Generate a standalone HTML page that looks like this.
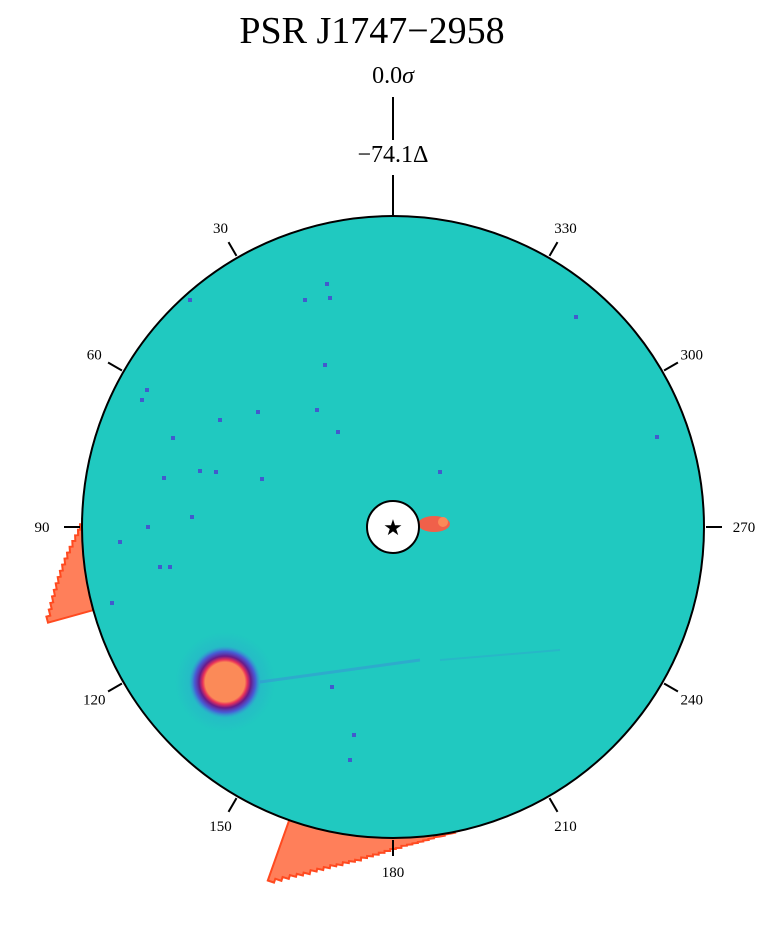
<!DOCTYPE html>
<html><head><meta charset="utf-8"><style>
html,body{margin:0;padding:0;background:#fff;}
svg{display:block;font-family:"Liberation Serif",serif;}
</style></head><body>
<svg id="chart" width="773" height="935" viewBox="0 0 773 935" xmlns="http://www.w3.org/2000/svg">
<defs>
<radialGradient id="blob" cx="50%" cy="50%" r="50%">
<stop offset="0" stop-color="#fb8a58"/><stop offset="0.55" stop-color="#fb8a58"/>
<stop offset="0.62" stop-color="#e8305a"/><stop offset="0.72" stop-color="#6a1a8a"/>
<stop offset="0.85" stop-color="#5046d8" stop-opacity="0.8"/><stop offset="1" stop-color="#3c8fd8" stop-opacity="0"/>
</radialGradient>
<radialGradient id="halo" cx="50%" cy="50%" r="50%">
<stop offset="0" stop-color="#3a7fe0" stop-opacity="0.6"/><stop offset="1" stop-color="#3a7fe0" stop-opacity="0"/>
</radialGradient>
<clipPath id="disk"><circle cx="393" cy="527" r="311"/></clipPath>
</defs>
<text x="372" y="43" text-anchor="middle" font-size="38">PSR J1747−2958</text>
<text x="393" y="83" text-anchor="middle" font-size="24">0.0<tspan font-style="italic">σ</tspan></text>
<line x1="393" y1="97" x2="393" y2="140" stroke="#000" stroke-width="2"/>
<text x="393" y="162" text-anchor="middle" font-size="24">−74.1Δ</text>
<line x1="393" y1="175" x2="393" y2="216" stroke="#000" stroke-width="2"/>
<g id="hists"></g>
<g clip-path="url(#disk)">
<circle cx="393" cy="527" r="311" fill="#20c9c0"/>
<g id="spots"></g>
<line x1="260" y1="682" x2="420" y2="660" stroke="#3a8fd8" stroke-width="3" opacity="0.5"/>
<line x1="440" y1="660" x2="560" y2="650" stroke="#3a8fd8" stroke-width="2" opacity="0.3"/>
<circle cx="225" cy="682" r="50" fill="url(#halo)"/>
<circle cx="225" cy="682" r="36" fill="url(#blob)"/>
<ellipse cx="434" cy="524" rx="16" ry="8" fill="#f0604a"/>
<circle cx="443" cy="522" r="5" fill="#fb8a58"/>
</g>
<circle cx="393" cy="527" r="311" fill="none" stroke="#000" stroke-width="2"/>
<circle cx="393" cy="527" r="26" fill="#fff" stroke="#000" stroke-width="2"/>
<text x="393" y="535" text-anchor="middle" font-size="22" font-family="DejaVu Sans">★</text>
<g id="ticks"></g>
</svg>
<script>
const cx=393, cy=527, R=311;
const tickAngles=[30,60,90,120,150,180,210,240,270,300,330];
const tickLabels=["30","60","90","120","150","180","210","240","270","300","330"];
const leftAngles=[89,90,91,92,93,94,95,96,97,98,99,100,101,102,103,104,105];
const leftValues=[0,2,4,7,10,13,16,19,22,25,28,31,34,37,40,43,47];
const bottomAngles=[161,162,163,164,165,166,167,168,169,170,171,172,173,174,175,176,177,178,179,180,181,182,183,184,185,186,187,188,189,190,191,192];
const bottomValues=[64,60,56,52,49,46,42,39,36,33,31,28,26,24,21,19,17,15,13,11,10,8,7,6,5,4,3,2,2,1,1,0];
const spotX=[327,330,220,258,173,164,142,160,170,200,216,148,120,112,192,262,338,325,440,657,576,305,317,332,354,350,190,147];
const spotY=[284,298,420,412,438,478,400,567,567,471,472,527,542,603,517,479,432,365,472,437,317,300,410,687,735,760,300,390];
function pt(theta,r){const a=theta*Math.PI/180;return [cx-r*Math.sin(a), cy-r*Math.cos(a)];}
const NS='http://www.w3.org/2000/svg';
function mk(t,attrs,parent){const e=document.createElementNS(NS,t);for(const k in attrs)e.setAttribute(k,attrs[k]);parent.appendChild(e);return e;}
function histPath(angles,vals){
  let d='';const w=1;
  angles.forEach((a,i)=>{const p1=pt(a-w/2,R+vals[i]),p2=pt(a+w/2,R+vals[i]);d+=(i?'L':'M')+p1[0].toFixed(1)+','+p1[1].toFixed(1)+'L'+p2[0].toFixed(1)+','+p2[1].toFixed(1);});
  for(let i=angles.length-1;i>=0;i--){const p=pt(angles[i]+(i==angles.length-1?w/2:0),R-2);d+='L'+p[0].toFixed(1)+','+p[1].toFixed(1);}
  const p0=pt(angles[0]-w/2,R-2);d+='L'+p0[0].toFixed(1)+','+p0[1].toFixed(1)+'Z';
  return d;
}
const hg=document.getElementById('hists');
const h1=mk('path',{d:histPath(leftAngles,leftValues),fill:'#ff7f5a',stroke:'#ff4a20','stroke-width':2},hg);


const h2=mk('path',{d:histPath(bottomAngles,bottomValues),fill:'#ff7f5a',stroke:'#ff4a20','stroke-width':2},hg);


const sg=document.getElementById('spots');
spotX.forEach((x,i)=>{const c=mk('rect',{x:x-2,y:spotY[i]-2,width:4,height:4,fill:'#4a40d0',opacity:0.8},sg);

});
const tg=document.getElementById('ticks');
tickAngles.forEach((a,i)=>{const p1=pt(a,R+2),p2=pt(a,R+18),pl=pt(a,R+ (a%180==90?40:34));
const l=mk('line',{x1:p1[0],y1:p1[1],x2:p2[0],y2:p2[1],stroke:'#000','stroke-width':2},tg);


const t=mk('text',{x:pl[0],y:pl[1]+5,'text-anchor':'middle','font-size':15},tg);
t.textContent=tickLabels[i];

});
</script>
</body></html>
